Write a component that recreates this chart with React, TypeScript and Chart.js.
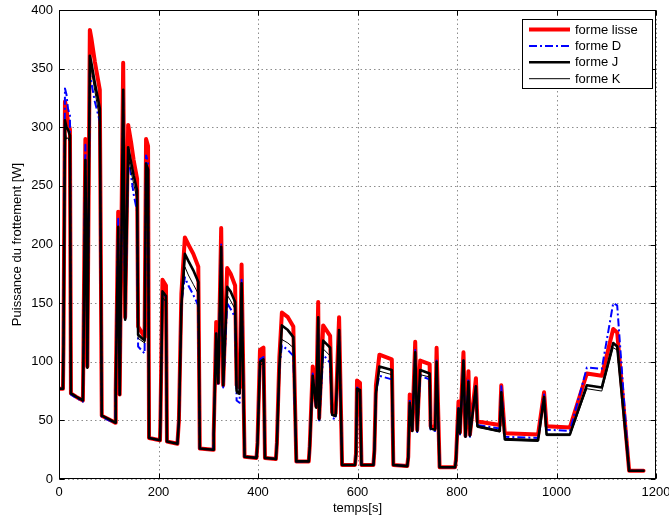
import React, { useEffect, useRef } from "react";
import { Chart, registerables } from "chart.js";

Chart.register(...registerables);

const times = [0, 8, 9, 12, 15, 18, 22, 24, 35, 48, 49, 53, 57, 62, 65, 72, 82, 86, 100, 113, 114, 119, 122, 129, 133, 139, 145, 150, 157, 159, 172, 175, 179, 181, 203, 204, 208, 215, 217, 238, 241, 246, 253, 260, 270, 280, 283, 310, 311, 316, 320, 326, 330, 338, 345, 354, 357, 363, 367, 373, 397, 399, 404, 411, 414, 436, 438, 443, 448, 460, 471, 477, 502, 504, 510, 517, 521, 523, 531, 545, 549, 556, 563, 569, 595, 597, 599, 605, 608, 632, 634, 637, 644, 669, 672, 700, 702, 705, 710, 716, 720, 726, 745, 747, 756, 759, 765, 796, 798, 803, 806, 813, 817, 823, 826, 838, 841, 886, 889, 896, 963, 975, 980, 1027, 1061, 1091, 1114, 1122, 1146, 1175];

const formeLisse = [77, 77, 114, 322, 316, 305, 298, 73, 70, 67, 105, 290, 96, 383, 376, 356, 332, 54, 51, 48, 76, 228, 72, 355, 138, 302, 287, 272, 256, 130, 121, 290, 284, 35, 33, 53, 170, 165, 32, 30, 50, 158, 206, 200, 192, 181, 26, 25, 39, 134, 82, 214, 80, 180, 175, 165, 80, 78, 183, 19, 18, 31, 110, 112, 18, 17, 31, 104, 142, 138, 130, 15, 15, 28, 96, 62, 151, 52, 131, 122, 57, 56, 138, 12, 12, 22, 84, 82, 12, 12, 25, 80, 106, 102, 12, 11, 19, 72, 42, 117, 42, 101, 98, 45, 44, 112, 10, 10, 17, 66, 40, 108, 37, 92, 38, 86, 49, 46, 80, 39, 38, 74, 45, 44, 90, 88, 128, 125, 7, 7];

const formeD = [77, 77, 116, 333, 328, 316, 310, 72, 69, 66, 104, 285, 96, 346, 338, 322, 305, 53, 50, 48, 75, 222, 72, 325, 135, 276, 258, 243, 228, 113, 107, 276, 270, 35, 33, 52, 160, 155, 32, 30, 49, 150, 172, 165, 157, 148, 26, 25, 38, 126, 80, 200, 78, 150, 145, 138, 67, 65, 170, 19, 18, 30, 102, 104, 18, 17, 30, 95, 114, 110, 105, 15, 15, 27, 90, 60, 136, 50, 106, 99, 52, 51, 126, 12, 12, 21, 78, 76, 12, 12, 24, 74, 88, 85, 12, 11, 18, 68, 40, 110, 40, 88, 85, 42, 41, 101, 10, 10, 16, 62, 38, 101, 35, 86, 36, 80, 46, 43, 79, 36, 35, 72, 42, 41, 95, 94, 150, 148, 7, 7];

const formeJ = [77, 77, 112, 306, 300, 298, 293, 73, 70, 67, 100, 272, 95, 361, 355, 338, 316, 54, 51, 48, 75, 215, 72, 332, 136, 283, 270, 259, 246, 123, 118, 269, 264, 35, 33, 52, 160, 156, 32, 30, 49, 148, 192, 186, 178, 168, 26, 25, 38, 124, 82, 198, 80, 164, 160, 151, 75, 73, 167, 19, 18, 30, 100, 102, 18, 17, 30, 96, 131, 127, 121, 15, 15, 27, 88, 61, 138, 51, 118, 112, 55, 54, 127, 12, 12, 21, 77, 76, 12, 12, 24, 73, 96, 93, 12, 11, 18, 65, 41, 108, 41, 93, 90, 43, 42, 100, 10, 10, 16, 60, 39, 101, 36, 83, 37, 79, 45, 41, 74, 34, 33, 70, 38, 38, 80, 78, 116, 113, 7, 7];

const formeK = [77, 77, 110, 297, 290, 291, 287, 73, 70, 67, 99, 266, 94, 356, 349, 331, 307, 54, 51, 48, 74, 210, 72, 323, 135, 276, 262, 252, 238, 120, 116, 262, 257, 35, 33, 52, 155, 151, 32, 30, 49, 144, 181, 174, 166, 158, 26, 25, 38, 120, 81, 192, 80, 157, 152, 145, 73, 72, 162, 19, 18, 30, 97, 99, 18, 17, 30, 93, 119, 116, 112, 15, 15, 27, 86, 60, 133, 51, 111, 105, 54, 53, 123, 12, 12, 21, 75, 74, 12, 12, 24, 71, 92, 89, 12, 11, 18, 63, 41, 104, 41, 89, 87, 43, 42, 97, 10, 10, 16, 58, 39, 97, 36, 80, 37, 76, 44, 40, 72, 33, 32, 68, 37, 37, 77, 75, 112, 110, 7, 7];

const xTickValues = [0, 200, 400, 600, 800, 1000, 1200];
const yTickValues = [0, 50, 100, 150, 200, 250, 300, 350, 400];

const seriesLabels = ["forme lisse", "forme D", "forme J", "forme K"];
const xLabel = "temps[s]";
const yLabel = "Puissance du frottement [W]";

const FONT = "'Liberation Sans', Arial, Helvetica, sans-serif";
const FS = 13;

const gridPlugin = {
  id: "matlabGrid",
  beforeDatasetsDraw(chart: any) {
    const { ctx, chartArea: a, scales } = chart;
    ctx.save();
    ctx.strokeStyle = "#8c8c8c";
    ctx.lineWidth = 1;
    ctx.setLineDash([1.5, 3]);
    xTickValues.forEach((v) => {
      const px = Math.round(scales.x.getPixelForValue(v)) + 0.5;
      ctx.beginPath();
      ctx.moveTo(px, a.top);
      ctx.lineTo(px, a.bottom);
      ctx.stroke();
    });
    yTickValues.forEach((v) => {
      const py = Math.round(scales.y.getPixelForValue(v)) + 0.5;
      ctx.beginPath();
      ctx.moveTo(a.left, py);
      ctx.lineTo(a.right, py);
      ctx.stroke();
    });
    ctx.restore();
  },
};

const boxPlugin = {
  id: "matlabBox",
  afterDatasetsDraw(chart: any) {
    const { ctx, chartArea: a, scales } = chart;
    ctx.save();
    ctx.setLineDash([]);
    ctx.strokeStyle = "#000";
    ctx.lineWidth = 1;
    const L = Math.round(a.left) + 0.5;
    const R = Math.round(a.right) - 0.5;
    const T = Math.round(a.top) + 0.5;
    const B = Math.round(a.bottom) - 0.5;
    ctx.strokeRect(L, T, R - L, B - T);
    const tl = 5;
    ctx.beginPath();
    xTickValues.forEach((v) => {
      const px = Math.round(scales.x.getPixelForValue(v)) + 0.5;
      ctx.moveTo(px, B);
      ctx.lineTo(px, B - tl);
      ctx.moveTo(px, T);
      ctx.lineTo(px, T + tl);
    });
    yTickValues.forEach((v) => {
      const py = Math.round(scales.y.getPixelForValue(v)) + 0.5;
      ctx.moveTo(L, py);
      ctx.lineTo(L + tl, py);
      ctx.moveTo(R, py);
      ctx.lineTo(R - tl, py);
    });
    ctx.stroke();

    // legend
    const lw = 131;
    const lh = 70;
    const lx = Math.round(a.right) - 134;
    const ly = Math.round(a.top) + 9;
    ctx.fillStyle = "#fff";
    ctx.fillRect(lx, ly, lw, lh);
    ctx.strokeStyle = "#000";
    ctx.lineWidth = 1;
    ctx.strokeRect(lx + 0.5, ly + 0.5, lw - 1, lh - 1);
    chart.data.datasets.forEach((ds: any, i: number) => {
      const y = ly + 10.5 + i * 16.4;
      ctx.beginPath();
      ctx.setLineDash(ds.borderDash || []);
      ctx.lineWidth = ds.borderWidth;
      ctx.strokeStyle = ds.borderColor;
      ctx.lineCap = "butt";
      ctx.moveTo(lx + 7, y);
      ctx.lineTo(lx + 48, y);
      ctx.stroke();
      ctx.setLineDash([]);
      ctx.fillStyle = "#000";
      ctx.font = `${FS}px ${FONT}`;
      ctx.textBaseline = "middle";
      ctx.textAlign = "left";
      ctx.fillText(ds.label, lx + 53, y + 0.5);
    });
    ctx.restore();
  },
};

export default function App() {
  const ref = useRef<HTMLCanvasElement | null>(null);
  useEffect(() => {
    document.body.style.margin = "0";
    const canvas = ref.current;
    if (!canvas) return;
    Chart.defaults.font.family = FONT;
    Chart.defaults.font.size = FS;
    Chart.defaults.color = "#000";
    const mk = (vals: number[]) => times.map((t, i) => ({ x: t, y: vals[i] }));
    const chart = new Chart(canvas, {
      type: "line",
      data: {
        datasets: [
          {
            label: seriesLabels[0],
            data: mk(formeLisse),
            borderColor: "#ff0000",
            borderWidth: 4,
            borderCapStyle: "round",
            order: 4,
          },
          {
            label: seriesLabels[1],
            data: mk(formeD),
            borderColor: "#0000ff",
            borderWidth: 2,
            borderDash: [8, 3, 2, 3],
            borderCapStyle: "butt",
            order: 3,
          },
          {
            label: seriesLabels[2],
            data: mk(formeJ),
            borderColor: "#000000",
            borderWidth: 2.6,
            borderCapStyle: "round",
            order: 2,
          },
          {
            label: seriesLabels[3],
            data: mk(formeK),
            borderColor: "#000000",
            borderWidth: 1,
            order: 1,
          },
        ],
      } as any,
      options: {
        responsive: false,
        animation: false,
        elements: {
          point: { radius: 0, hoverRadius: 0 },
          line: { tension: 0, borderJoinStyle: "round", fill: false },
        },
        layout: { padding: { left: 0, top: 10, right: 13, bottom: 0 } },
        plugins: { legend: { display: false }, tooltip: { enabled: false } },
        scales: {
          x: {
            type: "linear",
            min: 0,
            max: 1200,
            ticks: {
              stepSize: 200,
              color: "#000",
              padding: 6,
              font: { size: FS },
              maxRotation: 0,
              callback: (v: any) => String(v),
            },
            grid: { display: false, drawTicks: false },
            border: { display: false },
            title: { display: true, text: xLabel, color: "#000", font: { size: FS }, padding: { top: 0, bottom: 1 } },
            afterFit: (s: any) => {
              s.height = 38;
              s.paddingLeft = 0;
              s.paddingRight = 0;
            },
          },
          y: {
            type: "linear",
            min: 0,
            max: 400,
            ticks: {
              stepSize: 50,
              color: "#000",
              padding: 6,
              font: { size: FS },
              callback: (v: any) => String(v),
            },
            grid: { display: false, drawTicks: false },
            border: { display: false },
            title: { display: true, text: yLabel, color: "#000", font: { size: FS }, padding: { top: 10, bottom: 0 } },
            afterFit: (s: any) => {
              s.width = 59;
              s.paddingTop = 0;
              s.paddingBottom = 0;
            },
          },
        },
      } as any,
      plugins: [gridPlugin, boxPlugin],
    });
    return () => chart.destroy();
  }, []);
  return (
    <div style={{ position: "absolute", left: 0, top: 0, width: 669, height: 517, background: "#fff" }}>
      <canvas ref={ref} width={669} height={517} style={{ display: "block" }} />
    </div>
  );
}
